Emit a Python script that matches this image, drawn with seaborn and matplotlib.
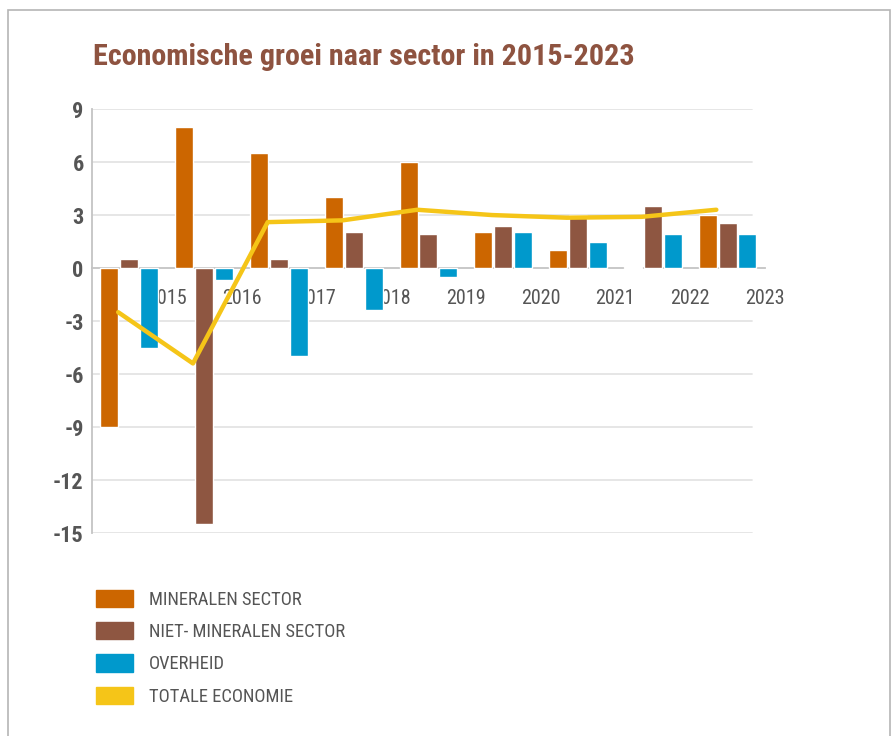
import numpy as np
import pandas as pd
import matplotlib
matplotlib.use("Agg")
import matplotlib.pyplot as plt
from matplotlib.patches import Patch, Rectangle
import seaborn as sns

# data
years = ["2015", "2016", "2017", "2018", "2019", "2020", "2021", "2022", "2023"]
mineralen = [-9.0, 8.0, 6.5, 4.0, 6.0, 2.05, 1.0, 0.05, 3.0]
niet_mineralen = [0.5, -14.5, 0.5, 2.05, 1.9, 2.4, 3.0, 3.5, 2.55]
overheid = [-4.5, -0.7, -5.0, -2.4, -0.5, 2.05, 1.5, 1.9, 1.9]
totale = [-2.5, -5.4, 2.6, 2.7, 3.3, 3.0, 2.85, 2.9, 3.3]

series = ["MINERALEN SECTOR", "NIET- MINERALEN SECTOR", "OVERHEID"]
line_label = "TOTALE ECONOMIE"
colors = ["#CC6600", "#8E5641", "#0099CC"]
line_color = "#F5C518"

df = pd.DataFrame({
    "jaar": years * 3,
    "groei": mineralen + niet_mineralen + overheid,
    "sector": [s for s in series for _ in years],
})

sns.set_style("white")
plt.rcParams["font.family"] = ["Roboto Condensed", "Liberation Sans", "DejaVu Sans"]

fig = plt.figure(figsize=(8.96, 7.36), dpi=100)
ax = fig.add_axes([0.1027, 0.2758, 0.751, 0.576])

sns.barplot(data=df, x="jaar", y="groei", hue="sector", hue_order=series,
            palette=colors, width=0.8, gap=0.1, saturation=1, legend=False,
            ax=ax, zorder=2)

# total economy line, sits on the right edge of the first bar of each group
x_line = np.arange(len(years)) - 0.15
ax.plot(x_line, totale, color=line_color, lw=3.2, zorder=4, solid_capstyle="round")

ax.set_xlim(-0.5, 8.5)
ax.set_ylim(-15, 9)

# gridlines (stop a little before the axis end)
for v in range(-15, 10, 3):
    if v != 0:
        ax.plot([-0.5, 8.33], [v, v], color="#e4e4e4", lw=1.3, zorder=0.5)

for s in ["top", "right"]:
    ax.spines[s].set_visible(False)
ax.spines["left"].set_color("#c4c4c4")
ax.spines["left"].set_linewidth(1.3)
ax.spines["bottom"].set_position(("data", 0))
ax.spines["bottom"].set_color("#c4c4c4")
ax.spines["bottom"].set_linewidth(1.3)
ax.spines["bottom"].set_zorder(1)

ax.set_yticks(np.arange(-15, 10, 3))
ax.set_yticklabels([str(v) for v in range(-15, 10, 3)])
ax.set_xticks(np.arange(len(years)) + 0.5)
ax.set_xticklabels(years)
ax.set_xlabel("")
ax.set_ylabel("")
ax.set_axisbelow(True)

ax.tick_params(axis="y", direction="in", length=12, width=1.3, color="#c4c4c4", pad=6,
               labelsize=16, labelcolor="#555555")
ax.tick_params(axis="x", direction="out", length=7, width=1.3, color="#c4c4c4", pad=8,
               labelsize=14.5, labelcolor="#555555")
for lab in ax.get_yticklabels():
    lab.set_fontweight("bold")

fig.text(0.104, 0.922, "Economische groei naar sector in 2015-2023", fontsize=21.7,
         fontweight="bold", color="#8E5340", va="center", ha="left")

handles = [Patch(color=c) for c in colors] + [Patch(color=line_color)]
labels = series + [line_label]
fig.legend(handles, labels, loc="upper left", bbox_to_anchor=(0.107, 0.199),
           frameon=False, fontsize=13.3, labelcolor="#555555",
           handlelength=2.0, handleheight=1.08, labelspacing=0.72,
           handletextpad=0.85, borderaxespad=0, borderpad=0)

# outer frame
fig.patches.append(Rectangle((0.009, -0.01), 0.984, 0.996, transform=fig.transFigure,
                             fill=False, edgecolor="#b5b5b5", lw=1.2))

fig.savefig("out.png", dpi=100)
